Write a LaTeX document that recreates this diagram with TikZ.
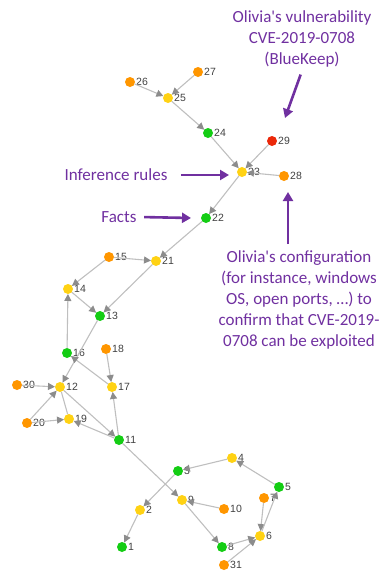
\documentclass[tikz,border=0pt]{standalone}
\usepackage{fontspec}
\usepackage{tikz}
\usetikzlibrary{arrows.meta}
\usetikzlibrary{positioning}
\newfontfamily\calibrifont{Carlito}
\newfontfamily\arialfont{Liberation Sans}
\definecolor{notepurple}{RGB}{112,48,160}
\definecolor{dotgreen}{RGB}{20,205,20}
\definecolor{dotyellow}{RGB}{255,210,20}
\definecolor{dotorange}{RGB}{255,150,0}
\definecolor{dotred}{RGB}{235,40,10}
\tikzset{
  dot/.style={circle, fill=#1, minimum size=10pt, inner sep=0pt, outer sep=0pt},
  num/.style={label={[lbl]right:#1}},
  lbl/.style={font=\arialfont\fontsize{10.5}{12}\selectfont, text=black!75, inner sep=1pt, label distance=0pt},
  link/.style={draw=black!25, line width=1.1pt, -{Triangle[length=7pt,width=7pt,color=black!45]}},
  note/.style={font=\calibrifont\fontsize{17}{21}\selectfont, text=notepurple, align=center},
  pointer/.style={draw=notepurple, line width=2.6pt, -{Triangle[length=9pt,width=10pt]}}
}

\begin{document}
\begin{tikzpicture}[x=1pt, y=-1pt]
      \useasboundingbox (0, 0) rectangle (384, 574);

      % top of the graph
      \node[dot=dotorange, num=26] (n26) at (130, 82) {}; \node[dot=dotorange, num=27] (n27) at (198, 72) {};
      \node[dot=dotyellow, num=25] (n25) at (168, 98) {};
      \node[dot=dotgreen, num=24] (n24) at (208, 133) {}; \node[dot=dotred, num=29] (n29) at (272, 141) {};
      \node[dot=dotyellow, num=23] (n23) at (242, 172) {}; \node[dot=dotorange, num=28] (n28) at (284, 176) {};
      \node[dot=dotgreen, num=22] (n22) at (206, 218) {};

      % middle
      \node[dot=dotorange, num=15] (n15) at (109, 257) {}; \node[dot=dotyellow, num=21] (n21) at (156, 261) {};
      \node[dot=dotyellow, num=14] (n14) at (68, 289) {};
      \node[dot=dotgreen, num=13] (n13) at (100, 316) {};
      \node[dot=dotgreen, num=16] (n16) at (67, 353) {}; \node[dot=dotorange, num=18] (n18) at (106, 349) {};
      \node[dot=dotorange, num=30] (n30) at (17, 385) {}; \node[dot=dotyellow, num=12] (n12) at (60, 387) {};
      \node[dot=dotyellow, num=17] (n17) at (112, 387) {};
      \node[dot=dotorange, num=20] (n20) at (27, 423) {}; \node[dot=dotyellow, num=19] (n19) at (69, 419) {};
      \node[dot=dotgreen, num=11] (n11) at (119, 440) {};

      % bottom
      \node[dot=dotyellow, num=4] (n4) at (232, 458) {}; \node[dot=dotgreen, num=3] (n3) at (178, 471) {};
      \node[dot=dotgreen, num=5] (n5) at (279, 487) {}; \node[dot=dotorange, num=7] (n7) at (264, 498) {};
      \node[dot=dotyellow, num=9] (n9) at (182, 500) {}; \node[dot=dotorange, num=10] (n10) at (224, 509) {};
      \node[dot=dotyellow, num=2] (n2) at (140, 510) {};
      \node[dot=dotyellow, num=6] (n6) at (260, 536) {};
      \node[dot=dotgreen, num=1] (n1) at (122, 547) {}; \node[dot=dotgreen, num=8] (n8) at (222, 547) {};
      \node[dot=dotorange, num=31] (n31) at (224, 565) {};

      \path [link]
      (n26) edge (n25)
      (n27) edge (n25)
      (n25) edge (n24)
      (n24) edge (n23)
      (n29) edge (n23)
      (n28) edge (n23)
      (n23) edge (n22)
      (n22) edge (n21)
      (n15) edge (n21)
      (n15) edge (n14)
      (n21) edge (n13)
      (n14) edge (n13)
      (n16) edge (n14)
      (n13) edge (n12)
      (n17) edge (n16)
      (n18) edge (n17)
      (n11) edge (n17)
      (n30) edge (n12)
      (n20) edge (n12)
      (n20) edge (n19)
      (n12) edge [-] (n19)
      (n12) edge (n11)
      (n11) edge (n19)
      (n11) edge (n9)
      (n4) edge (n3)
      (n3) edge (n2)
      (n2) edge (n1)
      (n10) edge (n9)
      (n9) edge (n8)
      (n8) edge (n6)
      (n31) edge (n6)
      (n7) edge (n6)
      (n6) edge (n5)
      (n5) edge (n4);

      % annotations
      \node[note] (vuln) at (302, 39) {Olivia's vulnerability\\CVE-2019-0708\\(BlueKeep)};
      \node[note] (infer) at (116, 175) {Inference rules};
      \node[note] (facts) at (119, 217) {Facts};
      \node[note] (config) at (299, 300) {Olivia's configuration\\(for instance, windows\\OS, open ports, \dots) to\\confirm that CVE-2019-\\0708 can be exploited};

      \coordinate (vtip) at (285, 118); \coordinate (itip) at (229, 175);
      \coordinate (ftip) at (191, 218); \coordinate (ctip) at (288, 192);

      \draw[pointer, shorten <=4pt] (vuln.south) -- (vtip);
      \draw[pointer, shorten <=10pt] (infer.east) -- (itip);
      \draw[pointer, shorten <=4pt] (facts.east) -- (ftip);
      \draw[pointer, shorten <=3pt] (config.north -| ctip) -- (ctip);
    \end{tikzpicture}
\end{document}
